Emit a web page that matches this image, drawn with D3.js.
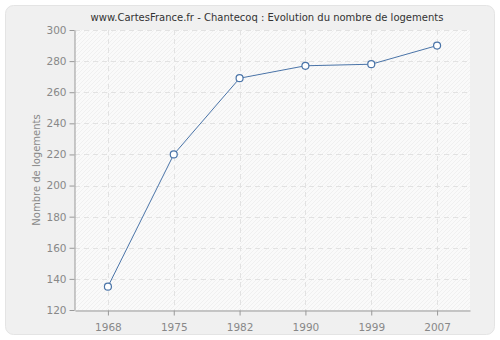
<!DOCTYPE html>
<html>
<head>
<meta charset="utf-8">
<script src="https://cdn.jsdelivr.net/npm/d3@7"></script>
<style>
  body { margin: 0; background: #fff; }
  svg text { font-family: "DejaVu Sans", Verdana, sans-serif; }
</style>
</head>
<body>
<div id="chart"></div>
<script>
const years = ['1968', '1975', '1982', '1990', '1999', '2007']
const logements = [135, 220, 269, 277, 278, 290]
const yTicks = [120, 140, 160, 180, 200, 220, 240, 260, 280, 300]

const width = 500
const height = 340
const margin = { top: 30, right: 30, bottom: 30, left: 75 }

const svg = d3
  .select('#chart')
  .append('svg')
  .attr('width', width)
  .attr('height', height)

// hatch pattern for plot background
const defs = svg.append('defs')
const pat = defs
  .append('pattern')
  .attr('id', 'hatch')
  .attr('patternUnits', 'userSpaceOnUse')
  .attr('width', 4)
  .attr('height', 4)
pat.append('rect').attr('width', 4).attr('height', 4).attr('fill', '#fafafa')
pat
  .append('path')
  .attr('d', 'M-1,1 l2,-2 M0,4 l4,-4 M3,5 l2,-2')
  .attr('stroke', '#f0f0f0')
  .attr('stroke-width', 1)

// outer panel
svg
  .append('rect')
  .attr('x', 5.5)
  .attr('y', 5.5)
  .attr('width', 489)
  .attr('height', 329)
  .attr('rx', 8)
  .attr('fill', '#f0f0f0')
  .attr('stroke', '#e4e4e4')

const x = d3
  .scalePoint()
  .domain(years)
  .range([margin.left, width - margin.right])
  .padding(0.5)

const y = d3
  .scaleLinear()
  .domain([120, 300])
  .range([height - margin.bottom, margin.top])

svg
  .append('rect')
  .attr('x', margin.left)
  .attr('y', margin.top)
  .attr('width', width - margin.left - margin.right)
  .attr('height', height - margin.top - margin.bottom)
  .attr('fill', 'url(#hatch)')

// grid
svg
  .append('g')
  .selectAll('line')
  .data(yTicks.slice(1))
  .enter()
  .append('line')
  .attr('x1', margin.left)
  .attr('x2', width - margin.right)
  .attr('y1', d => Math.round(y(d)) + 0.5)
  .attr('y2', d => Math.round(y(d)) + 0.5)
  .attr('stroke', '#e2e2e2')
  .attr('stroke-dasharray', '5,4')

svg
  .append('g')
  .selectAll('line')
  .data(years)
  .enter()
  .append('line')
  .attr('x1', d => Math.round(x(d)) + 0.5)
  .attr('x2', d => Math.round(x(d)) + 0.5)
  .attr('y1', margin.top)
  .attr('y2', height - margin.bottom)
  .attr('stroke', '#e2e2e2')
  .attr('stroke-dasharray', '5,4')

// axes
const xAxis = svg
  .append('g')
  .attr('transform', 'translate(0,' + (height - margin.bottom + 0.5) + ')')
  .call(d3.axisBottom(x).tickSize(5).tickSizeOuter(0))

const yAxis = svg
  .append('g')
  .attr('transform', 'translate(' + (margin.left - 0.5) + ',0)')
  .call(d3.axisLeft(y).tickValues(yTicks).tickSize(5).tickSizeOuter(0))

;[xAxis, yAxis].forEach(function(g) {
  g.select('.domain').attr('stroke', '#999')
  g.selectAll('.tick line').attr('stroke', '#999')
  g.selectAll('.tick text')
    .attr('fill', '#888')
    .style('font-size', '10.5px')
})
xAxis.selectAll('.tick text').attr('dy', '1.2em')
yAxis.selectAll('.tick text').attr('x', -8)

// title
svg
  .append('text')
  .attr('x', 267)
  .attr('y', 21)
  .attr('text-anchor', 'middle')
  .attr('fill', '#333')
  .style('font-size', '10px')
  .text('www.CartesFrance.fr - Chantecoq : Evolution du nombre de logements')

svg
  .append('text')
  .attr('transform', 'translate(40,' + (margin.top + (height - margin.top - margin.bottom) / 2) + ') rotate(-90)')
  .attr('text-anchor', 'middle')
  .attr('fill', '#888')
  .style('font-size', '10px')
  .text('Nombre de logements')

// line
const line = d3
  .line()
  .x((d, i) => x(years[i]))
  .y(d => y(d))

svg
  .append('path')
  .datum(logements)
  .attr('d', line)
  .attr('fill', 'none')
  .attr('stroke', '#4a74a8')
  .attr('stroke-width', 1)

svg
  .append('g')
  .selectAll('circle')
  .data(logements)
  .enter()
  .append('circle')
  .attr('cx', (d, i) => x(years[i]))
  .attr('cy', d => y(d))
  .attr('r', 3.5)
  .attr('fill', '#fff')
  .attr('stroke', '#4a74a8')
  .attr('stroke-width', 1.2)
</script>
</body>
</html>
